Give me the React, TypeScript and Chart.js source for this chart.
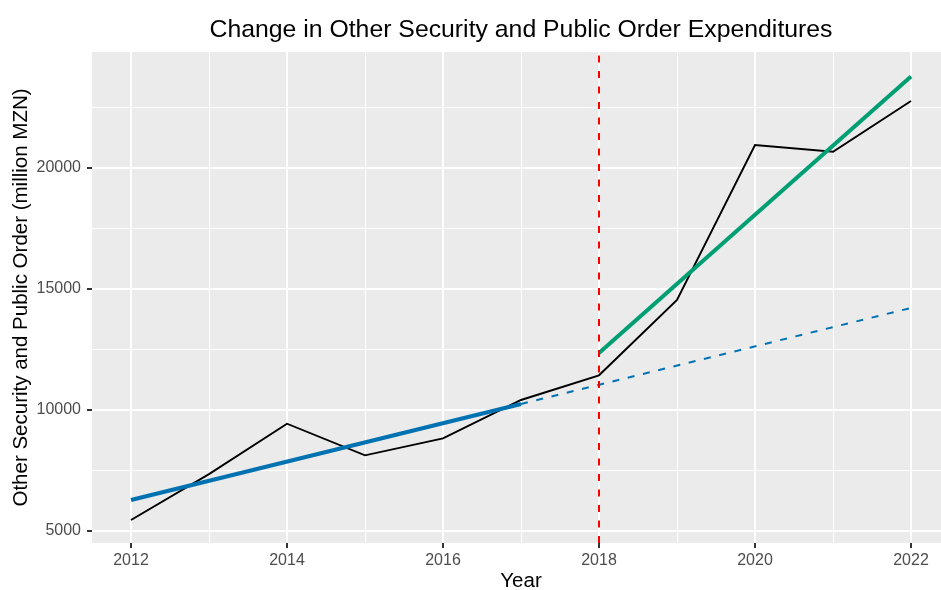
import React, { useEffect, useRef } from "react";
import { Chart, registerables } from "chart.js";

Chart.register(...registerables);

// ---- data ----
const years = [2012, 2013, 2014, 2015, 2016, 2017, 2018, 2019, 2020, 2021, 2022];
const expenditure = [5454, 7350, 9430, 8125, 8827, 10409, 11428, 14537, 20937, 20660, 22754];

const preTrendYears = [2012, 2017];
const preTrendValues = [6280, 10244];

const projectionYears = [2017, 2022];
const projectionValues = [10244, 14210];

const postTrendYears = [2018, 2022];
const postTrendValues = [12350, 23760];

const policyYear = 2018;

const xMajorTicks = [2012, 2014, 2016, 2018, 2020, 2022];
const xMinorTicks = [2013, 2015, 2017, 2019, 2021];
const yMajorTicks = [5000, 10000, 15000, 20000];
const yMinorTicks = [7500, 12500, 17500, 22500];

const xRange = [2011.5, 2022.5];
const yRange = [4505, 24777];

const titleText = "Change in Other Security and Public Order Expenditures";
const xTitle = "Year";
const yTitle = "Other Security and Public Order (million MZN)";

const FONT = "'Liberation Sans', Arial, Helvetica, sans-serif";

const toPoints = (xs: number[], ys: number[]) => xs.map((x, i) => ({ x, y: ys[i] }));

const panelBackground = {
  id: "panelBackground",
  beforeDraw(chart: any) {
    const { ctx, chartArea } = chart;
    ctx.save();
    ctx.fillStyle = "#EBEBEB";
    ctx.fillRect(chartArea.left, chartArea.top, chartArea.right - chartArea.left, chartArea.bottom - chartArea.top);
    ctx.restore();
  },
};

export default function App() {
  const canvasRef = useRef<HTMLCanvasElement | null>(null);

  useEffect(() => {
    if (!canvasRef.current) return;
    const xMajor = new Set(xMajorTicks);
    const yMajor = new Set(yMajorTicks);

    const chart = new Chart(canvasRef.current, {
      type: "scatter",
      data: {
        datasets: [
          {
            label: "policy",
            data: [
              { x: policyYear, y: yRange[0] },
              { x: policyYear, y: yRange[1] },
            ],
            showLine: true,
            borderColor: "#FF0000",
            borderWidth: 2,
            borderDash: [7, 8.5],
            pointRadius: 0,
            order: 0,
          },
          {
            label: "post trend",
            data: toPoints(postTrendYears, postTrendValues),
            showLine: true,
            borderColor: "#009E73",
            borderWidth: 4,
            pointRadius: 0,
            order: 1,
          },
          {
            label: "pre trend",
            data: toPoints(preTrendYears, preTrendValues),
            showLine: true,
            borderColor: "#0072B2",
            borderWidth: 4,
            pointRadius: 0,
            order: 2,
          },
          {
            label: "projection",
            data: toPoints(projectionYears, projectionValues),
            showLine: true,
            borderColor: "#0072B2",
            borderWidth: 2,
            borderDash: [7, 8.7],
            pointRadius: 0,
            order: 3,
          },
          {
            label: "expenditure",
            data: toPoints(years, expenditure),
            showLine: true,
            borderColor: "#000000",
            borderWidth: 1.9,
            pointRadius: 0,
            tension: 0,
            order: 4,
          },
        ],
      },
      options: {
        animation: false,
        responsive: false,
        devicePixelRatio: 1,
        layout: { padding: 0 },
        plugins: {
          legend: { display: false },
          tooltip: { enabled: false },
          title: {
            display: true,
            text: titleText,
            fullSize: false,
            color: "#000000",
            font: { family: FONT, size: 24.8, weight: "normal", lineHeight: 1.2 },
            padding: { top: 15.5, bottom: 6.7 },
          },
        },
        scales: {
          x: {
            type: "linear",
            min: xRange[0],
            max: xRange[1],
            afterBuildTicks: (scale: any) => {
              scale.ticks = [...xMajorTicks, ...xMinorTicks].sort((a, b) => a - b).map((v) => ({ value: v }));
            },
            afterFit: (scale: any) => {
              scale.height = 47;
            },
            border: { display: false },
            grid: {
              color: "#FFFFFF",
              lineWidth: (ctx: any) => (xMajor.has(ctx.tick?.value) ? 2 : 1),
              tickColor: (ctx: any) => (xMajor.has(ctx.tick?.value) ? "#333333" : "rgba(0,0,0,0)"),
              tickLength: 5,
              tickWidth: 2,
            },
            ticks: {
              autoSkip: false,
              maxRotation: 0,
              padding: 3,
              color: "#4D4D4D",
              font: { family: FONT, size: 16 },
              callback: (v: any) => (xMajor.has(Number(v)) ? String(v) : ""),
            },
            title: {
              display: true,
              text: xTitle,
              color: "#000000",
              font: { family: FONT, size: 20.5, lineHeight: 0.85 },
              padding: { top: 0, bottom: 0 },
            },
          },
          y: {
            type: "linear",
            min: yRange[0],
            max: yRange[1],
            afterBuildTicks: (scale: any) => {
              scale.ticks = [...yMajorTicks, ...yMinorTicks].sort((a, b) => a - b).map((v) => ({ value: v }));
            },
            afterFit: (scale: any) => {
              scale.width = 92;
            },
            border: { display: false },
            grid: {
              color: "#FFFFFF",
              lineWidth: (ctx: any) => (yMajor.has(ctx.tick?.value) ? 2 : 1),
              tickColor: (ctx: any) => (yMajor.has(ctx.tick?.value) ? "#333333" : "rgba(0,0,0,0)"),
              tickLength: 5,
              tickWidth: 2,
            },
            ticks: {
              padding: 6,
              color: "#4D4D4D",
              font: { family: FONT, size: 16 },
              callback: (v: any) => (yMajor.has(Number(v)) ? String(v) : ""),
            },
            title: {
              display: true,
              text: yTitle,
              color: "#000000",
              font: { family: FONT, size: 20.5, lineHeight: 1.2 },
              padding: { top: 9, bottom: 0 },
            },
          },
        },
      },
      plugins: [panelBackground],
    });
    return () => chart.destroy();
  }, []);

  return (
    <div style={{ position: "absolute", left: 0, top: 0, width: 941, height: 590, overflow: "hidden", background: "#FFFFFF" }}>
      <canvas ref={canvasRef} width={950} height={590} style={{ display: "block" }} />
    </div>
  );
}
